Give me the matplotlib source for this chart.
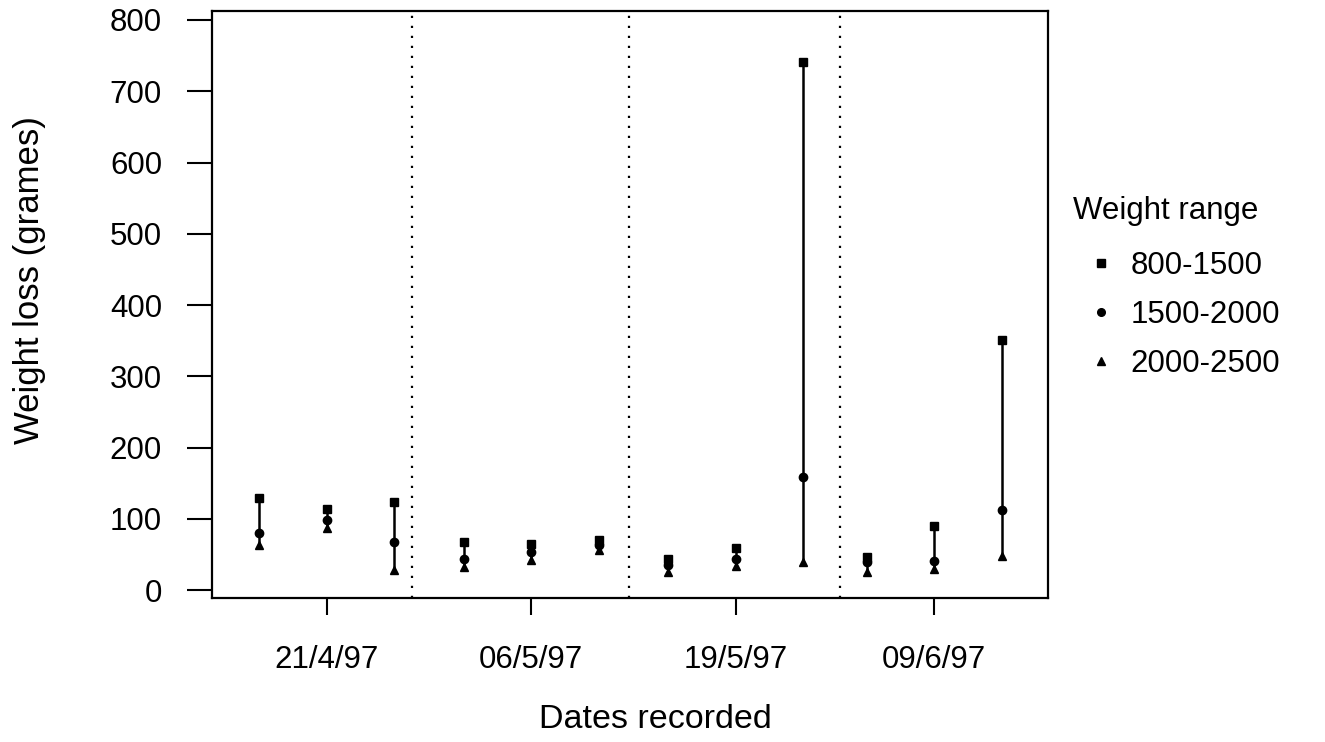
import matplotlib
matplotlib.use("Agg")
import matplotlib.pyplot as plt
import numpy as np

plt.rcParams['font.family'] = ['Liberation Sans', 'DejaVu Sans']

# ---- data ----
dates = ["21/4/97", "06/5/97", "19/5/97", "09/6/97"]
weight_ranges = ["800-1500", "1500-2000", "2000-2500"]
# three samples per date (grammes)
loss_800_1500 = [129, 114, 124, 68, 65, 70, 44, 59, 741, 47, 90, 351]
loss_1500_2000 = [80, 99, 67, 44, 54, 63, 35, 44, 159, 39, 41, 112]
loss_2000_2500 = [64, 87, 28, 33, 43, 57, 26, 34, 40, 26, 30, 48]

# ---- layout ----
W, H, DPI = 1325, 742, 100
fig = plt.figure(figsize=(W / DPI, H / DPI), dpi=DPI)
ax = fig.add_axes([212 / W, 1 - 598 / H, (1048 - 212) / W, (598 - 10.7) / H])

centers = np.array([1.0, 2.0, 3.0, 3.97])
offsets = np.array([-0.33, 0.0, 0.33])
xpos = (centers[:, None] + offsets[None, :]).ravel()

series = [np.array(loss_800_1500), np.array(loss_1500_2000), np.array(loss_2000_2500)]
lo = np.min(series, axis=0)
hi = np.max(series, axis=0)
ax.vlines(xpos, lo, hi, colors='black', linewidth=1.8, zorder=2)

markers = ['s', 'o', '^']
for vals, m, lab in zip(series, markers, weight_ranges):
    ax.plot(xpos, vals, linestyle='none', marker=m, color='black',
            markersize=6, zorder=3, label=lab)

# dotted separators between dates
for xv in [1.42, 2.478, 3.51]:
    ax.axvline(xv, color='black', linestyle=(0, (1, 3.5)), linewidth=1.6, zorder=1)

ax.set_xlim(0.44, 4.527)
ax.set_ylim(-11, 813)
ax.set_xticks(centers)
ax.set_xticklabels(dates)
ax.set_yticks(np.arange(0, 801, 100))

for sp in ax.spines.values():
    sp.set_linewidth(1.6)

ax.tick_params(axis='x', length=12, width=1.5, pad=22, labelsize=22.5)
ax.tick_params(axis='y', length=18, width=1.5, pad=18, labelsize=22.5)

fig.text(655 / W, 1 - 719 / H, "Dates recorded", ha='center', va='center', fontsize=24.5)
fig.text(30 / W, 1 - 280 / H, "Weight loss (grames)", ha='center', va='center',
         rotation=90, fontsize=25)

# legend
fig.text(1073 / W, 1 - 211 / H, "Weight range", ha='left', va='center', fontsize=22.5)
leg = fig.legend(handles=[plt.Line2D([], [], linestyle='none', marker=m, color='black',
                                     markersize=5.5) for m in markers],
                 labels=weight_ranges, loc='upper left',
                 bbox_to_anchor=(1088 / W, 1 - 251 / H), frameon=False,
                 fontsize=22.5, handlelength=0.8, handletextpad=0.55,
                 labelspacing=0.6, borderpad=0, borderaxespad=0)

fig.savefig("out.png", dpi=DPI)
